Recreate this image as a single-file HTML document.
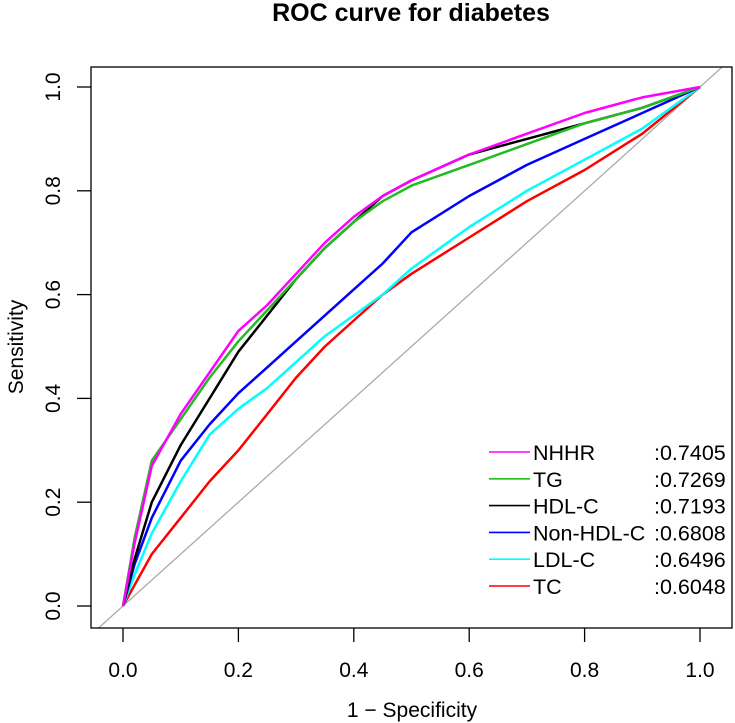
<!DOCTYPE html>
<html><head><meta charset="utf-8"><style>body{margin:0;background:#fff}svg{display:block;font-family:"Liberation Sans",Arial,sans-serif}</style></head>
<body>
<svg id="c" width="735" height="723"></svg>
<script>
const xs=[0,0.02,0.05,0.1,0.15,0.2,0.25,0.3,0.35,0.4,0.45,0.5,0.6,0.7,0.8,0.9,1];
const nhhr=[0,0.12,0.27,0.37,0.45,0.53,0.58,0.64,0.70,0.75,0.79,0.82,0.87,0.91,0.95,0.98,1];
const tg=[0,0.13,0.28,0.36,0.44,0.51,0.57,0.63,0.69,0.74,0.78,0.81,0.85,0.89,0.93,0.96,1];
const hdl=[0,0.09,0.20,0.31,0.40,0.49,0.56,0.63,0.69,0.74,0.79,0.82,0.87,0.90,0.93,0.96,1];
const nonhdl=[0,0.08,0.17,0.28,0.35,0.41,0.46,0.51,0.56,0.61,0.66,0.72,0.79,0.85,0.90,0.95,1];
const ldl=[0,0.06,0.14,0.24,0.33,0.38,0.42,0.47,0.52,0.56,0.60,0.65,0.73,0.80,0.86,0.92,1];
const tc=[0,0.04,0.10,0.17,0.24,0.30,0.37,0.44,0.50,0.55,0.60,0.64,0.71,0.78,0.84,0.91,1];
const names=["NHHR","TG","HDL-C","Non-HDL-C","LDL-C","TC"];
const aucs=[":0.7405",":0.7269",":0.7193",":0.6808",":0.6496",":0.6048"];
const ticks=[0,0.2,0.4,0.6,0.8,1.0];
const series=[nhhr,tg,hdl,nonhdl,ldl,tc];
const colors=["#ff00ff","#22bb22","#000000","#0000ff","#00ffff","#ff0000"];
const X=v=>123+v*577, Y=v=>606-v*519;
const svg=document.getElementById('c');const NS="http://www.w3.org/2000/svg";
function mk(t,a,txt){const e=document.createElementNS(NS,t);for(const k in a)e.setAttribute(k,a[k]);if(txt!=null)e.textContent=txt;svg.appendChild(e);return e;}
let e;
e=mk('text',{x:411,y:21,'text-anchor':'middle','font-size':25,'font-weight':'bold'},'ROC curve for diabetes');

e=mk('defs',{});e.innerHTML='<clipPath id="cp"><rect x="91" y="67" width="641" height="561"/></clipPath>';
e=mk('line',{x1:X(-0.1),y1:Y(-0.1),x2:X(1.1),y2:Y(1.1),stroke:'#aaa','stroke-width':1.3,'clip-path':'url(#cp)'});

for(let s=series.length-1;s>=0;s--){
 const d=xs.map((x,i)=>(i?'L':'M')+X(x).toFixed(1)+','+Y(series[s][i]).toFixed(1)).join('');
 e=mk('path',{d:d,fill:'none',stroke:colors[s],'stroke-width':2.5,'stroke-linejoin':'round'});
 
}
e=mk('rect',{x:91,y:67,width:641,height:561,fill:'none',stroke:'#000','stroke-width':1.3});

ticks.forEach(t=>{
 e=mk('line',{x1:X(t),y1:628,x2:X(t),y2:642,stroke:'#000','stroke-width':1.3});
 
 e=mk('text',{x:X(t),y:677,'text-anchor':'middle','font-size':21},t.toFixed(1));
 
 e=mk('line',{x1:77,y1:Y(t),x2:91,y2:Y(t),stroke:'#000','stroke-width':1.3});
 
 e=mk('text',{x:0,y:0,'text-anchor':'middle','font-size':21,transform:`translate(60,${Y(t)}) rotate(-90)`},t.toFixed(1));
 
});
e=mk('text',{x:412,y:717,'text-anchor':'middle','font-size':21},'1 − Specificity');

e=mk('text',{x:0,y:0,'text-anchor':'middle','font-size':21,transform:'translate(23,347) rotate(-90)'},'Sensitivity');

names.forEach((n,i)=>{
 const y=452+i*26.8;
 e=mk('line',{x1:489,y1:y,x2:530,y2:y,stroke:colors[i],'stroke-width':1.6});
 
 e=mk('text',{x:533,y:y+8,'font-size':21.5},n);
 
 e=mk('text',{x:654,y:y+8,'font-size':21.5},aucs[i]);
 
});
</script>
</body></html>
